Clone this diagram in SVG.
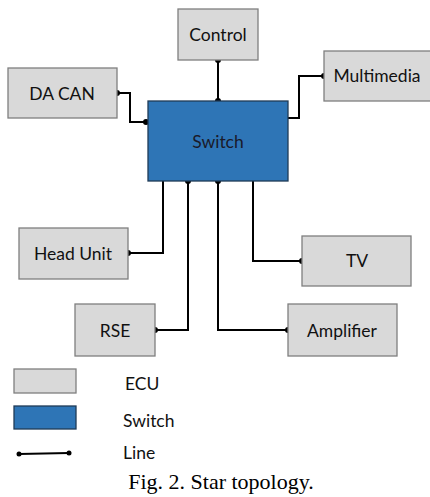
<svg xmlns="http://www.w3.org/2000/svg" width="430" height="497" viewBox="0 0 430 497">
<style>
.ecu{fill:#d9d9d9;stroke:#7f7f7f;stroke-width:1.3}
.sw{fill:#2e75b6;stroke:#1f3b57;stroke-width:1.3}
.t{font-family:Lato,"Open Sans",sans-serif;font-size:17.5px;fill:#111;text-anchor:middle}
.tl{font-family:Lato,"Open Sans",sans-serif;font-size:17.5px;fill:#111}
.c{fill:none;stroke:#000;stroke-width:2}
.d{fill:#000}
.cap{font-family:"Liberation Serif",serif;font-size:22px;fill:#000;text-anchor:middle}
</style>
<rect width="430" height="497" fill="#fff"/>
<g id="connectors">
<polyline class="c" points="218,60 218,101"/>
<polyline class="c" points="117,93 130,93 130,122 146,122"/>
<polyline class="c" points="288,118 299,118 299,76 324,76"/>
<polyline class="c" points="128,253 163,253 163,181"/>
<polyline class="c" points="253,181 253,261 302,261"/>
<polyline class="c" points="155,330 188,330 188,181"/>
<polyline class="c" points="218,181 218,330 288,330"/>
<circle class="d" cx="218" cy="60" r="3"/>
<circle class="d" cx="218" cy="101" r="3"/>
<circle class="d" cx="117" cy="93" r="3"/>
<circle class="d" cx="146" cy="122" r="3"/>
<circle class="d" cx="324" cy="76" r="3"/>
<circle class="d" cx="128" cy="253" r="3"/>
<circle class="d" cx="302" cy="261" r="3"/>
<circle class="d" cx="155" cy="330" r="3"/>
<circle class="d" cx="188" cy="181" r="3"/>
<circle class="d" cx="218" cy="181" r="3"/>
<circle class="d" cx="288" cy="330" r="3"/>
</g>
<g id="switch"><rect class="sw" x="148" y="101" width="140" height="80"/><text class="t" x="218" y="148" style="fill:#1a1a2a">Switch</text></g>
<g id="control"><rect class="ecu" x="178" y="9" width="80" height="51"/><text class="t" x="218" y="41">Control</text></g>
<g id="dacan"><rect class="ecu" x="8" y="68" width="109" height="50"/><text class="t" x="62" y="100">DA CAN</text></g>
<g id="multimedia"><rect class="ecu" x="324" y="51" width="110" height="50"/><text class="t" x="377" y="82">Multimedia</text></g>
<g id="headunit"><rect class="ecu" x="19" y="228" width="109" height="51"/><text class="t" x="73" y="260">Head Unit</text></g>
<g id="tv"><rect class="ecu" x="302" y="236" width="109" height="50"/><text class="t" x="357" y="267">TV</text></g>
<g id="rse"><rect class="ecu" x="75" y="304" width="80" height="52"/><text class="t" x="115" y="337">RSE</text></g>
<g id="amplifier"><rect class="ecu" x="288" y="304" width="109" height="52"/><text class="t" x="342" y="337">Amplifier</text></g>
<g id="legend">
<rect class="ecu" x="14" y="369" width="62" height="24"/>
<text class="tl" x="125" y="390">ECU</text>
<rect class="sw" x="14" y="406" width="62" height="23"/>
<text class="tl" x="123" y="427">Switch</text>
<line class="c" x1="19" y1="454" x2="69" y2="453" stroke-width="1.5"/>
<circle class="d" cx="19" cy="454" r="2.5"/>
<circle class="d" cx="69" cy="453" r="2.5"/>
<text class="tl" x="123" y="459">Line</text>
</g>
<text class="cap" x="221" y="489">Fig. 2. Star topology.</text>
</svg>
